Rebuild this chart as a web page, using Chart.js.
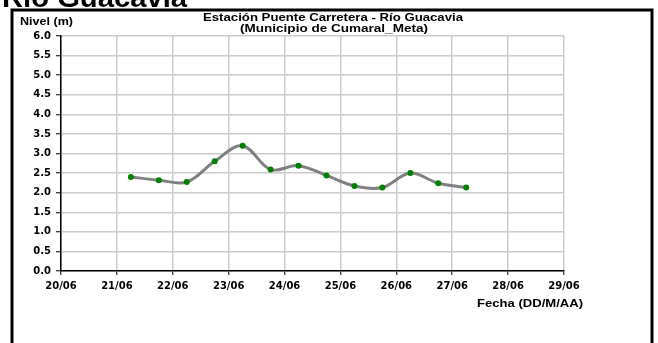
<!DOCTYPE html>
<html>
<head>
<meta charset="utf-8">
<script src="https://cdn.jsdelivr.net/npm/chart.js@4/dist/chart.umd.min.js"></script>
<style>
  html, body { margin: 0; padding: 0; background: #fff; }
  #wrap { width: 658px; height: 343px; position: relative; }
</style>
</head>
<body>
<div id="wrap"><canvas id="myChart" width="658" height="343"></canvas></div>
<script>
// dias contados desde el 20/06 (0 = 20/06 00:00)
var dias = [1.25, 1.75, 2.25, 2.75, 3.25, 3.75, 4.25, 4.75, 5.25, 5.75, 6.25, 6.75, 7.25];
var nivel = [2.40, 2.32, 2.27, 2.80, 3.20, 2.59, 2.69, 2.44, 2.17, 2.13, 2.50, 2.24, 2.13];
var fechas = ['20/06', '21/06', '22/06', '23/06', '24/06', '25/06', '26/06', '27/06', '28/06', '29/06'];

var puntos = dias.map(function (d, i) { return { x: d, y: nivel[i] }; });
var fuente = 'Liberation Sans, Arial, sans-serif';
var fuenteEjes = 'DejaVu Sans, sans-serif';

// texto estirado a lo ancho (como lo deja Excel al pegar la imagen)
function texto(c, str, x, y, size, ancho) {
  c.font = 'bold ' + size + 'px ' + fuente;
  var w = c.measureText(str).width;
  c.save();
  c.translate(x, y);
  c.scale(ancho / w, 1);
  c.textAlign = 'left';
  c.fillText(str, 0, 0);
  c.restore();
}

var textos = {
  id: 'textos',
  beforeDraw: function (chart) {
    var c = chart.ctx;
    c.save();
    c.fillStyle = '#fff';
    c.fillRect(0, 0, chart.width, chart.height);
    c.strokeStyle = '#000';
    c.lineWidth = 3;
    c.strokeRect(12, 10, 640, 360);
    c.restore();
  },
  afterDraw: function (chart) {
    var c = chart.ctx;
    c.save();
    c.fillStyle = '#000';
    c.textBaseline = 'alphabetic';
    texto(c, 'Río Guacavia', 2, 7, 28, 185);
    texto(c, 'Estación Puente Carretera - Río Guacavia', 203, 21, 11, 260);
    texto(c, '(Municipio de Cumaral_Meta)', 240, 32, 11, 188);
    texto(c, 'Nivel (m)', 20, 25, 11, 53);
    texto(c, 'Fecha (DD/M/AA)', 477, 307, 11, 106);
    c.restore();
  }
};

var ctx = document.getElementById('myChart').getContext('2d');
var chart = new Chart(ctx, {
  type: 'line',
  data: {
    datasets: [{
      label: 'Nivel',
      data: puntos,
      borderColor: '#808080',
      borderWidth: 3,
      tension: 0.35,
      pointRadius: 3,
      pointHoverRadius: 3,
      pointBackgroundColor: '#008000',
      pointBorderColor: '#008000',
      pointBorderWidth: 0
    }]
  },
  options: {
    responsive: false,
    animation: false,
    events: [],
    layout: { padding: { left: 0, top: 36, right: 94, bottom: 0 } },
    plugins: {
      legend: { display: false },
      tooltip: { enabled: false }
    },
    scales: {
      x: {
        type: 'linear',
        min: 0,
        max: 9,
        afterFit: function (s) { s.height = 72; },
        afterBuildTicks: function (s) {
          s.ticks = fechas.map(function (f, i) { return { value: i }; });
        },
        ticks: {
          autoSkip: false,
          maxRotation: 0,
          padding: 5,
          color: '#000',
          font: { family: fuenteEjes, size: 10, weight: 'bold' },
          callback: function (v) { return fechas[v]; }
        },
        grid: {
          color: '#cccccc',
          lineWidth: 1.5,
          tickLength: 4,
          tickColor: '#000',
          tickWidth: 1
        },
        border: { color: '#000', width: 1.5 }
      },
      y: {
        min: 0,
        max: 6,
        afterFit: function (s) { s.width = 61; },
        ticks: {
          stepSize: 0.5,
          padding: 5,
          color: '#000',
          font: { family: fuenteEjes, size: 10, weight: 'bold' },
          callback: function (v) { return v.toFixed(1); }
        },
        grid: {
          color: '#cccccc',
          lineWidth: 1.5,
          tickLength: 5,
          tickColor: '#000',
          tickWidth: 1
        },
        border: { color: '#000', width: 1.5 }
      }
    }
  },
  plugins: [textos]
});
</script>
</body>
</html>
